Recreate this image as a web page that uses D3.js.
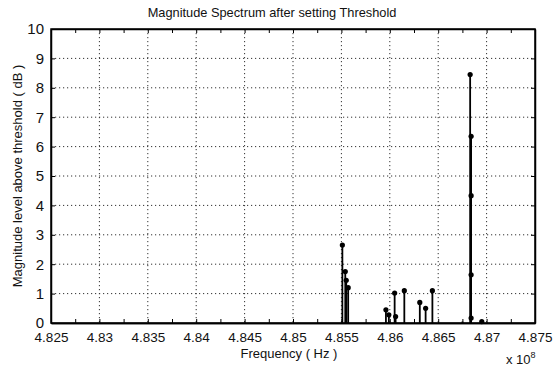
<!DOCTYPE html>
<html>
<head>
<meta charset="utf-8">
<script src="https://cdn.jsdelivr.net/npm/d3@7"></script>
<style>
  body { margin: 0; background: #fff; }
  text { font-family: "Liberation Sans", Arial, sans-serif; fill: #111; }
</style>
</head>
<body>
<div id="chart"></div>
<script>
// stem data, frequency in units of 1e8 Hz, level in dB above threshold
var freqs = [4.8551, 4.8554, 4.8555, 4.8557,
  4.8596, 4.8599, 4.8605, 4.8606, 4.8615, 4.8631, 4.8637, 4.8644,
  4.8675, 4.8683, 4.8684, 4.8684, 4.8684, 4.8684, 4.8695];
var levels = [2.65, 1.75, 1.45, 1.2,
  0.45, 0.28, 1.02, 0.22, 1.1, 0.7, 0.5, 1.1,
  0.05, 8.45, 6.35, 4.33, 1.64, 0.17, 0.05];
var markers = [1, 1, 1, 1,
  1, 1, 1, 1, 1, 1, 1, 1,
  0, 1, 1, 1, 1, 1, 1];
var xTicks = [4.825, 4.83, 4.835, 4.84, 4.845, 4.85, 4.855, 4.86, 4.865, 4.87, 4.875];
var xTickLabels = ["4.825", "4.83", "4.835", "4.84", "4.845", "4.85", "4.855", "4.86", "4.865", "4.87", "4.875"];
var yTicks = [0, 1, 2, 3, 4, 5, 6, 7, 8, 9, 10];

var width = 553, height = 367;
// plot box (don't call it "top", that's window.top)
var pL = 51, pR = 535, pT = 29, pB = 323;

var svg = d3.select("#chart").append("svg")
  .attr("width", width)
  .attr("height", height);

var x = d3.scaleLinear().domain([4.825, 4.875]).range([pL, pR]);
var y = d3.scaleLinear().domain([0, 10]).range([pB, pT]);

// grid, dotted
var grid = svg.append("g");
grid.selectAll(".gx")
  .data(xTicks.slice(1, -1))
  .enter().append("line")
  .attr("x1", d => x(d)).attr("x2", d => x(d))
  .attr("y1", pT).attr("y2", pB)
  .attr("stroke", "#333").attr("stroke-width", 1)
  .attr("stroke-dasharray", "1.2,2.8");
grid.selectAll(".gy")
  .data(yTicks.slice(1, -1))
  .enter().append("line")
  .attr("x1", pL).attr("x2", pR)
  .attr("y1", d => y(d)).attr("y2", d => y(d))
  .attr("stroke", "#333").attr("stroke-width", 1)
  .attr("stroke-dasharray", "1.2,2.8");

// stems
var stemData = freqs.map((d, i) => ({ f: d, v: levels[i], m: markers[i] }));
var stems = svg.append("g");
stems.selectAll("line")
  .data(stemData)
  .enter().append("line")
  .attr("x1", d => x(d.f)).attr("x2", d => x(d.f))
  .attr("y1", y(0))
  .attr("y2", d => y(d.v))
  .attr("stroke", "#000").attr("stroke-width", 1.8);
stems.selectAll("circle")
  .data(stemData.filter(d => d.m))
  .enter().append("circle")
  .attr("cx", d => x(d.f))
  .attr("cy", d => y(d.v))
  .attr("r", 2.6)
  .attr("fill", "#000");

// axes: bottom/top with minor ticks, left/right
var minor = d3.range(0, 21).map(i => 4.825 + i * 0.0025);
var gB = svg.append("g").attr("transform", "translate(0," + pB + ")")
  .call(d3.axisBottom(x).tickValues(xTicks)
    .tickFormat((d, i) => xTickLabels[i]).tickSizeInner(0).tickSizeOuter(0).tickPadding(9));
svg.append("g").attr("transform", "translate(0," + pT + ")")
  .call(d3.axisTop(x).tickValues(minor).tickSizeInner(-4).tickSizeOuter(0).tickFormat(""));
svg.append("g").attr("transform", "translate(0," + pB + ")")
  .call(d3.axisBottom(x).tickValues(minor).tickSizeInner(-4).tickSizeOuter(0).tickFormat(""));
var gL = svg.append("g").attr("transform", "translate(" + pL + ",0)")
  .call(d3.axisLeft(y).tickValues(yTicks).tickSizeInner(-4).tickSizeOuter(0).tickPadding(7));
svg.append("g").attr("transform", "translate(" + pR + ",0)")
  .call(d3.axisRight(y).tickValues(yTicks).tickSizeInner(-4).tickSizeOuter(0).tickFormat(""));

svg.selectAll(".domain").attr("stroke", "#000").attr("stroke-width", 1.5);
svg.selectAll(".tick line").attr("stroke", "#000");
gB.selectAll("text").style("font-size", "13.5px").attr("fill", "#111");
gL.selectAll("text").style("font-size", "15px").attr("fill", "#111");

// frame
svg.append("rect")
  .attr("x", pL).attr("y", pT)
  .attr("width", pR - pL).attr("height", pB - pT)
  .attr("fill", "none").attr("stroke", "#000").attr("stroke-width", 1.5);

// titles
svg.append("text")
  .attr("x", 272).attr("y", 17)
  .attr("text-anchor", "middle")
  .style("font-size", "12.8px")
  .text("Magnitude Spectrum after setting Threshold");
svg.append("text")
  .attr("x", 289).attr("y", 358)
  .attr("text-anchor", "middle")
  .style("font-size", "13px")
  .text("Frequency ( Hz )");
svg.append("text")
  .attr("transform", "translate(22," + (pT + pB) / 2 + ") rotate(-90)")
  .attr("text-anchor", "middle")
  .style("font-size", "13px")
  .text("Magnitude level above threshold ( dB )");
var exp = svg.append("text").attr("x", 506).attr("y", 364).style("font-size", "13px");
exp.append("tspan").text("x 10");
exp.append("tspan").attr("dy", -6).style("font-size", "9px").text("8");
</script>
</body>
</html>
